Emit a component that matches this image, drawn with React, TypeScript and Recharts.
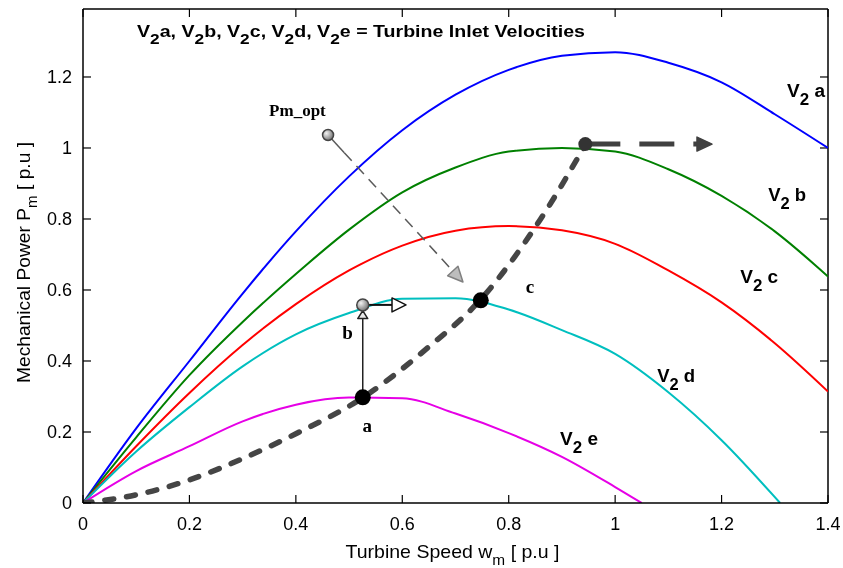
import React from "react";
import { LineChart, Line, XAxis, YAxis, ReferenceDot, ReferenceLine } from "recharts";

// turbine power curves
const speedGrid = [0, 0.1, 0.2, 0.3, 0.4, 0.5, 0.6, 0.7, 0.8, 0.9, 1.0, 1.1, 1.2, 1.3, 1.4];
const powerA = [0, 0.21, 0.4, 0.59, 0.765, 0.92, 1.05, 1.15, 1.22, 1.26, 1.27, 1.24, 1.185, 1.095, 1.0];
const powerB = [0, 0.185, 0.36, 0.51, 0.645, 0.77, 0.875, 0.945, 0.99, 1.0, 0.99, 0.94, 0.865, 0.765, 0.638];
const powerC = [0, 0.16, 0.31, 0.445, 0.56, 0.655, 0.725, 0.767, 0.78, 0.768, 0.73, 0.655, 0.565, 0.45, 0.314];
const speedD = [0, 0.1, 0.2, 0.3, 0.4, 0.5, 0.6, 0.7, 0.8, 0.9, 1.0, 1.1, 1.2, 1.31];
const powerD = [0, 0.145, 0.27, 0.385, 0.475, 0.535, 0.575, 0.577, 0.545, 0.487, 0.42, 0.312, 0.177, 0];
const speedE = [0, 0.1, 0.2, 0.3, 0.4, 0.5, 0.6, 0.7, 0.8, 0.9, 1.0, 1.05];
const powerE = [0, 0.09, 0.16, 0.23, 0.277, 0.297, 0.295, 0.252, 0.197, 0.13, 0.045, 0];
// optimum power locus (dashed)
const speedOpt = [0, 0.1, 0.2, 0.3, 0.4, 0.526, 0.65, 0.746, 0.86, 0.944];
const powerOpt = [0, 0.023, 0.065, 0.125, 0.195, 0.297, 0.44, 0.571, 0.8, 1.009];

const xTicks = [0, 0.2, 0.4, 0.6, 0.8, 1, 1.2, 1.4];
const yTicks = [0, 0.2, 0.4, 0.6, 0.8, 1, 1.2];
const X_MAX = 1.4;
const Y_MAX = 1.3915;

// operating points a, b, c and the top of the locus
const pointA = { w: 0.5257, p: 0.2977 };
const pointB = { w: 0.5257, p: 0.558 };
const pointC = { w: 0.7475, p: 0.571 };
const pointTop = { w: 0.944, p: 1.011 };
const arrowBEnd = { w: 0.607, p: 0.558 };
const arrowTopEnd = { w: 1.182, p: 1.011 };
const pmOptStart = { w: 0.4605, p: 1.0366 };
const pmOptEnd = { w: 0.714, p: 0.6225 };

const curveLabels = [
  { id: "a", w: 1.323, p: 1.1437 },
  { id: "b", w: 1.2876, p: 0.8507 },
  { id: "c", w: 1.235, p: 0.6197 },
  { id: "d", w: 1.079, p: 0.3408 },
  { id: "e", w: 0.8966, p: 0.1634 },
];
const pointLabels = [
  { text: "a", w: 0.534, p: 0.2 },
  { text: "b", w: 0.497, p: 0.462 },
  { text: "c", w: 0.84, p: 0.5915 },
  { text: "Pm_opt", w: 0.403, p: 1.09 },
];
const titleParts = ["a, ", "b, ", "c, ", "d, ", "e = Turbine Inlet Velocities"];

const toPoints = (xs: number[], ys: number[]) => xs.map((w, i) => ({ w, p: ys[i] }));

const SANS = "'Liberation Sans', Arial, sans-serif";
const SERIF = "'Liberation Serif', 'Times New Roman', serif";

const YTick = (props: any) => {
  const { x, y, payload } = props;
  return (
    <g>
      <line x1={x} x2={x + 8} y1={y} y2={y} stroke="#000" strokeWidth={1.2} />
      <text x={x - 11} y={y} dy="0.36em" textAnchor="end" fontSize={18} fontFamily={SANS} fill="#000">
        {String(payload.value)}
      </text>
    </g>
  );
};

const XTick = (props: any) => {
  const { x, y, payload } = props;
  return (
    <g>
      <line x1={x} x2={x} y1={y} y2={y - 8} stroke="#000" strokeWidth={1.2} />
      <text x={x} y={y + 27} textAnchor="middle" fontSize={18} fontFamily={SANS} fill="#000">
        {String(payload.value)}
      </text>
    </g>
  );
};

// short inward tick on the top frame edge
const topTickShape = (p: any) => {
  const y0 = Math.min(p.y1, p.y2);
  return <line x1={p.x1} x2={p.x1} y1={y0} y2={y0 + 8} stroke="#000" strokeWidth={1.2} />;
};
// short inward tick on the right frame edge
const rightTickShape = (p: any) => {
  const x0 = Math.max(p.x1, p.x2);
  return <line x1={x0} x2={x0 - 8} y1={p.y1} y2={p.y1} stroke="#000" strokeWidth={1.2} />;
};

// line with an arrow head at (x2, y2)
const arrowShape = (o: {
  stroke: string;
  width: number;
  dash?: string;
  lead?: number;
  headLen: number;
  headHalf: number;
  headFill: string;
  headStroke: string;
}) => (p: any) => {
  const { x1, y1, x2, y2 } = p;
  const dx = x2 - x1;
  const dy = y2 - y1;
  const len = Math.hypot(dx, dy) || 1;
  const ux = dx / len;
  const uy = dy / len;
  const bx = x2 - ux * o.headLen;
  const by = y2 - uy * o.headLen;
  const nx = -uy * o.headHalf;
  const ny = ux * o.headHalf;
  const lead = o.lead || 0;
  return (
    <g>
      {lead > 0 && (
        <line x1={x1} y1={y1} x2={x1 + ux * lead} y2={y1 + uy * lead} stroke={o.stroke} strokeWidth={o.width} />
      )}
      <line
        x1={x1 + ux * lead}
        y1={y1 + uy * lead}
        x2={bx}
        y2={by}
        stroke={o.stroke}
        strokeWidth={o.width}
        strokeDasharray={o.dash}
      />
      <polygon
        points={`${x2},${y2} ${bx + nx},${by + ny} ${bx - nx},${by - ny}`}
        fill={o.headFill}
        stroke={o.headStroke}
        strokeWidth={1.5}
        strokeLinejoin="round"
      />
    </g>
  );
};

const ballShape = (id: string, r: number) => (p: any) => (
  <g>
    <defs>
      <radialGradient id={id} cx="35%" cy="35%" r="70%">
        <stop offset="0%" stopColor="#f2f2f2" />
        <stop offset="100%" stopColor="#6f6f6f" />
      </radialGradient>
    </defs>
    <circle cx={p.cx} cy={p.cy} r={r} fill={`url(#${id})`} stroke="#444" strokeWidth={1.5} />
  </g>
);

const curveLabelShape = (id: string) => (p: any) => (
  <text
    x={p.cx}
    y={p.cy}
    fontSize={18}
    fontWeight="bold"
    fontFamily={SANS}
    fill="#000"
    textLength={38}
    lengthAdjust="spacingAndGlyphs"
  >
    <tspan>V</tspan>
    <tspan dy={8} fontSize={16}>
      2
    </tspan>
    <tspan dy={-8}>{" " + id}</tspan>
  </text>
);

const pointLabelShape = (text: string) => (p: any) => (
  <text
    x={p.cx}
    y={p.cy}
    textAnchor="middle"
    fontSize={text.length > 1 ? 17 : 19}
    fontWeight="bold"
    fontFamily={SERIF}
    fill="#000"
  >
    {text}
  </text>
);

const titleShape = (p: any) => (
  <text
    x={p.cx}
    y={p.cy}
    fontSize={17}
    fontWeight="bold"
    fontFamily={SANS}
    fill="#000"
    textLength={448}
    lengthAdjust="spacingAndGlyphs"
  >
    {titleParts.map((rest, i) => (
      <React.Fragment key={i}>
        <tspan>V</tspan>
        <tspan dy={7} fontSize={15}>
          2
        </tspan>
        <tspan dy={-7}>{rest}</tspan>
      </React.Fragment>
    ))}
  </text>
);

const XTitle = (props: any) => {
  const vb = props.viewBox;
  return (
    <text
      x={vb.x + vb.width / 2 - 3}
      y={vb.y + 55}
      textAnchor="middle"
      fontSize={19}
      fontFamily={SANS}
      fill="#000"
      textLength={214}
      lengthAdjust="spacingAndGlyphs"
    >
      <tspan>Turbine Speed w</tspan>
      <tspan dy={7} fontSize={15}>
        m
      </tspan>
      <tspan dy={-7}> [ p.u ]</tspan>
    </text>
  );
};

const YTitle = (props: any) => {
  const vb = props.viewBox;
  const cx = vb.x + 22;
  const cy = vb.y + vb.height / 2 + 6.5;
  return (
    <text
      x={cx}
      y={cy}
      transform={`rotate(-90, ${cx}, ${cy})`}
      textAnchor="middle"
      fontSize={19}
      fontFamily={SANS}
      fill="#000"
      textLength={241}
      lengthAdjust="spacingAndGlyphs"
    >
      <tspan>Mechanical Power P</tspan>
      <tspan dy={7} fontSize={15}>
        m
      </tspan>
      <tspan dy={-7}> [ p.u ]</tspan>
    </text>
  );
};

export default function App() {
  const series = [
    { key: "V2a", data: toPoints(speedGrid, powerA), color: "#0000ff" },
    { key: "V2b", data: toPoints(speedGrid, powerB), color: "#008000" },
    { key: "V2c", data: toPoints(speedGrid, powerC), color: "#ff0000" },
    { key: "V2d", data: toPoints(speedD, powerD), color: "#00bfbf" },
    { key: "V2e", data: toPoints(speedE, powerE), color: "#e600e6" },
  ];
  const optData = toPoints(speedOpt, powerOpt);

  return (
    <div style={{ position: "fixed", top: 8, left: 8, width: 835, height: 560, fontFamily: SANS }}>
      <LineChart width={835} height={560} margin={{ top: 1, right: 15, bottom: 0, left: 0 }}>
        <XAxis
          dataKey="w"
          type="number"
          domain={[0, X_MAX]}
          ticks={xTicks}
          allowDataOverflow
          height={65}
          tickSize={0}
          tickMargin={0}
          tickLine={false}
          tick={XTick}
          axisLine={{ stroke: "#000", strokeWidth: 1.5 }}
          label={XTitle}
        />
        <YAxis
          type="number"
          domain={[0, Y_MAX]}
          ticks={yTicks}
          allowDataOverflow
          width={75}
          tickSize={0}
          tickMargin={0}
          tickLine={false}
          tick={YTick}
          axisLine={{ stroke: "#000", strokeWidth: 1.5 }}
          label={YTitle}
        />
        {/* frame: top and right edges with mirrored ticks */}
        <ReferenceLine y={Y_MAX} stroke="#000" strokeWidth={1.5} ifOverflow="visible" />
        <ReferenceLine x={X_MAX} stroke="#000" strokeWidth={1.5} ifOverflow="visible" />
        {xTicks.map((t) => (
          <ReferenceLine key={"tt" + t} x={t} ifOverflow="visible" shape={topTickShape} />
        ))}
        {yTicks.map((t) => (
          <ReferenceLine key={"rt" + t} y={t} ifOverflow="visible" shape={rightTickShape} />
        ))}
        {series.map((s) => (
          <Line
            key={s.key}
            data={s.data}
            dataKey="p"
            type="monotone"
            stroke={s.color}
            strokeWidth={2}
            dot={false}
            activeDot={false}
            isAnimationActive={false}
          />
        ))}
        <Line
          data={optData}
          dataKey="p"
          type="monotone"
          stroke="#454545"
          strokeWidth={5.5}
          strokeDasharray="9 13"
          strokeLinecap="round"
          dot={false}
          activeDot={false}
          isAnimationActive={false}
        />
        <ReferenceLine
          segment={[
            { x: pointTop.w, y: pointTop.p },
            { x: arrowTopEnd.w, y: arrowTopEnd.p },
          ]}
          ifOverflow="visible"
          shape={arrowShape({
            stroke: "#404040",
            width: 5,
            dash: "35 19",
            headLen: 15,
            headHalf: 7,
            headFill: "#404040",
            headStroke: "#404040",
          })}
        />
        <ReferenceLine
          segment={[
            { x: pmOptStart.w, y: pmOptStart.p },
            { x: pmOptEnd.w, y: pmOptEnd.p },
          ]}
          ifOverflow="visible"
          shape={arrowShape({
            stroke: "#5a5a5a",
            width: 1.5,
            dash: "11 7",
            lead: 24,
            headLen: 15,
            headHalf: 7,
            headFill: "#bdbdbd",
            headStroke: "#808080",
          })}
        />
        <ReferenceLine
          segment={[
            { x: pointA.w, y: pointA.p },
            { x: pointB.w, y: pointB.p - 0.016 },
          ]}
          ifOverflow="visible"
          shape={arrowShape({
            stroke: "#222",
            width: 1.5,
            headLen: 8,
            headHalf: 5,
            headFill: "#e8e8e8",
            headStroke: "#222",
          })}
        />
        <ReferenceLine
          segment={[
            { x: pointB.w, y: pointB.p },
            { x: arrowBEnd.w, y: arrowBEnd.p },
          ]}
          ifOverflow="visible"
          shape={arrowShape({
            stroke: "#111",
            width: 2,
            headLen: 14,
            headHalf: 7,
            headFill: "#fff",
            headStroke: "#111",
          })}
        />
        <ReferenceDot x={pointA.w} y={pointA.p} r={8} fill="#000" stroke="none" ifOverflow="visible" />
        <ReferenceDot x={pointC.w} y={pointC.p} r={8} fill="#000" stroke="none" ifOverflow="visible" />
        <ReferenceDot x={pointTop.w} y={pointTop.p} r={7} fill="#333" stroke="none" ifOverflow="visible" />
        <ReferenceDot x={pointB.w} y={pointB.p} r={6} ifOverflow="visible" shape={ballShape("ballB", 6)} />
        <ReferenceDot x={pmOptStart.w} y={pmOptStart.p} r={6} ifOverflow="visible" shape={ballShape("ballPm", 5.5)} />
        {curveLabels.map((l) => (
          <ReferenceDot key={l.id} x={l.w} y={l.p} r={1} ifOverflow="visible" shape={curveLabelShape(l.id)} />
        ))}
        {pointLabels.map((l) => (
          <ReferenceDot key={l.text} x={l.w} y={l.p} r={1} ifOverflow="visible" shape={pointLabelShape(l.text)} />
        ))}
        <ReferenceDot x={0.1015} y={1.3127} r={1} ifOverflow="visible" shape={titleShape} />
      </LineChart>
    </div>
  );
}
